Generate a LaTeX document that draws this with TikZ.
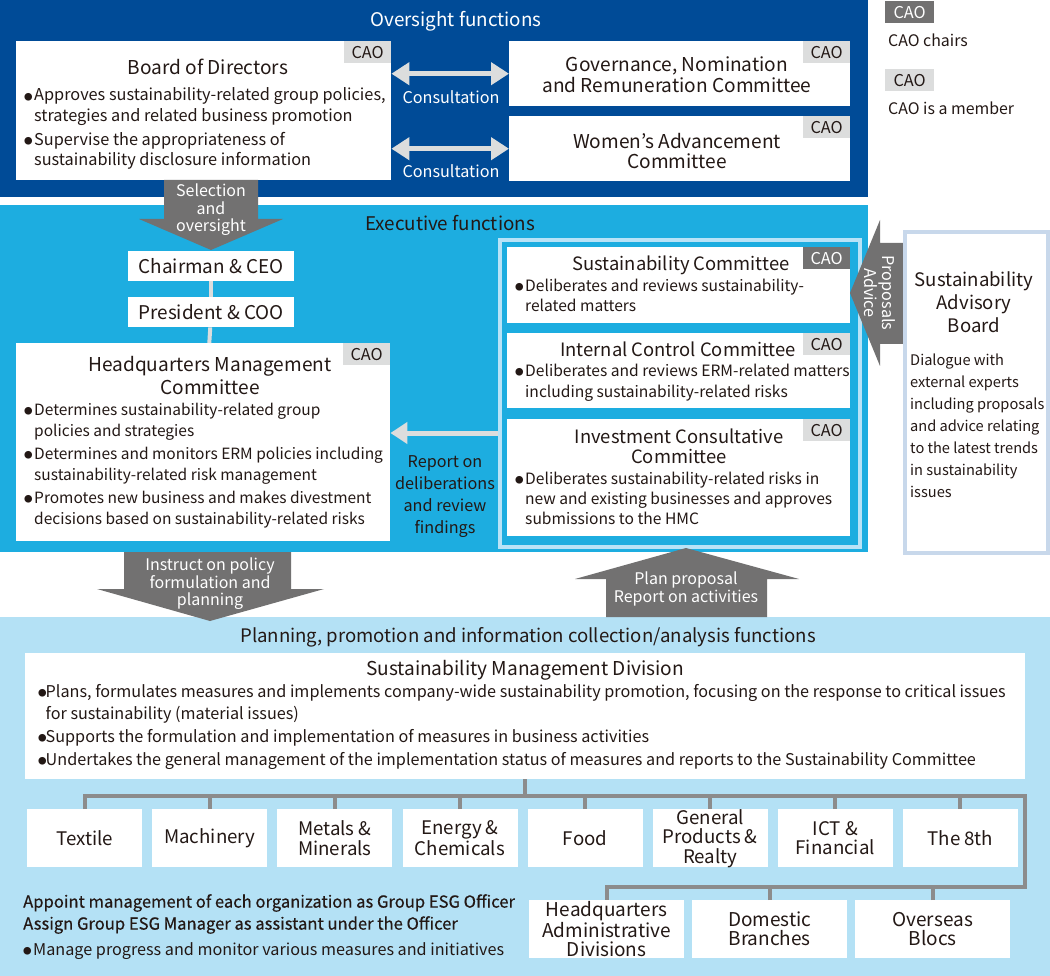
\documentclass[tikz,border=0pt]{standalone}
\usepackage{fontspec}
\setmainfont{Noto Sans CJK JP}
\newfontfamily\medfont[FakeBold=0.4]{Noto Sans CJK JP}
\usetikzlibrary{arrows.meta}
\definecolor{navy}{RGB}{0,75,151}
\definecolor{execblue}{RGB}{29,173,224}
\definecolor{planblue}{RGB}{180,225,245}
\definecolor{framec}{RGB}{185,227,247}
\definecolor{sabc}{RGB}{200,216,235}
\definecolor{darkgrey}{RGB}{114,113,113}
\definecolor{lightgrey}{RGB}{220,221,221}
\definecolor{treegrey}{RGB}{140,140,140}
\definecolor{ink}{RGB}{35,24,21}
\newcommand\fs[2]{\fontsize{#1}{#2}\selectfont}
\newcommand\bdot{\raisebox{0.8pt}{\fontsize{8.5}{8.5}\selectfont ●}}
\newcommand\bul{\makebox[10pt][l]{\bdot}}
\newcommand\bulS{\makebox[7.5pt][l]{\bdot}}
\newcommand\blist[1]{\begin{tabular}[t]{@{}l@{}l@{}}#1\end{tabular}}

\begin{document}
\begin{tikzpicture}[x=1pt,y=-1pt,
  every node/.style={text=ink, inner sep=0pt},
  panel/.style={anchor=north west},
  wbox/.style={fill=white, anchor=north west},
  cao/.style={fill=lightgrey, text=ink, anchor=north east, minimum width=47pt, minimum height=22pt, font=\fs{16.3}{16}},
  caod/.style={cao, fill=darkgrey, text=white},
  ptitle/.style={font=\fs{18.8}{20}},
  btitle/.style={font=\fs{19.1}{23}, align=center},
  body/.style={font=\fs{15.5}{20.5}, anchor=base west},
  wtext/.style={text=white, font=\fs{16}{17.5}, align=center},
  consult/.style={draw=lightgrey, line width=5pt, {Triangle[width=22pt,length=18pt]}-{Triangle[width=22pt,length=18pt]}},
  report/.style={draw=lightgrey, line width=5pt, -{Triangle[width=21pt,length=17pt]}},
  link/.style={draw=lightgrey, line width=4pt},
  tree/.style={draw=treegrey, line width=4pt},
  divbox/.style={wbox, minimum width=115pt, minimum height=58pt, font=\fs{18.7}{19.5}, align=center}
]
\useasboundingbox (0,0) rectangle (1050,976);

% oversight functions
\node[panel, fill=navy, minimum width=868pt, minimum height=197pt] (ovs) at (0,0) {};
\node[ptitle, text=white] at (456,21.5) {Oversight functions};

\node[wbox, minimum width=375pt, minimum height=139pt] (bod) at (16,41) {};
\node[cao] at (bod.north east) {CAO};
\node[btitle] at (208,67) {Board of Directors};
\node[body, font=\fs{16.3}{20.5}] at (24,101) {\blist{\bul & Approves sustainability-related group policies,\\
  & strategies and related business promotion\\[3.5pt]
  \bul & Supervise the appropriateness of\\
  & sustainability disclosure information}};

\node[wbox, minimum width=341pt, minimum height=65pt] (gnr) at (509,41) {};
\node[cao] at (gnr.north east) {CAO};
\node[btitle, font=\fs{19.1}{21}] at (677,75) {Governance, Nomination\\and Remuneration Committee};

\node[wbox, minimum width=341pt, minimum height=65pt] (wac) at (509,116) {};
\node[cao] at (wac.north east) {CAO};
\node[btitle, font=\fs{19.1}{20}] at (677,151) {Women’s Advancement\\Committee};

\draw[consult] (bod.east |- gnr.west) -- (gnr.west);
\draw[consult] (bod.east |- wac.west) -- (wac.west);
\node[text=white, font=\fs{16.2}{16}] at (451,97) {Consultation};
\node[text=white, font=\fs{16.2}{16}] at (451,171) {Consultation};

% legend
\node[caod, anchor=north west, minimum width=49pt] (lg1) at (885,1) {CAO};
\node[anchor=west, font=\fs{15.9}{16}] at (888,40) {CAO chairs};
\node[cao, anchor=north west, minimum width=49pt] (lg2) at (885,69) {CAO};
\node[anchor=west, font=\fs{15.9}{16}] at (888,108) {CAO is a member};

% executive functions
\node[panel, fill=execblue, minimum width=868pt, minimum height=347pt] (exe) at (0,205) {};
\node[ptitle] at (450,223) {Executive functions};

\fill[darkgrey] (164,180) -- (258,180) -- (258,219) -- (283,219) -- (211,250) -- (139,219) -- (164,219) -- cycle;
\node[wtext] at (211,210) {Selection\\and\\oversight};

\node[wbox, minimum width=166pt, minimum height=30pt, font=\fs{18.9}{18}] (ceo) at (128,251) {Chairman \& CEO};
\node[wbox, minimum width=166pt, minimum height=30pt, font=\fs{18.9}{18}] (coo) at (128,297) {President \& COO};

\node[wbox, minimum width=374pt, minimum height=198pt] (hmc) at (16,343) {};
\node[cao] at (hmc.north east) {CAO};
\draw[link] (ceo) -- (coo);
\draw[link] (coo) -- (hmc);
\node[btitle] at (210,375.5) {Headquarters Management\\Committee};
\node[body, font=\fs{15.5}{21}] at (24,415.5) {\blist{\bul & Determines sustainability-related group\\
  & policies and strategies\\[2pt]
  \bul & Determines and monitors ERM policies including\\
  & sustainability-related risk management\\[2pt]
  \bul & Promotes new business and makes divestment\\
  & decisions based on sustainability-related risks}};

\node[panel, draw=framec, line width=4pt, minimum width=360pt, minimum height=307pt] (frm) at (498,238) {};

\node[wbox, minimum width=343pt, minimum height=76pt] (sc) at (507,247) {};
\node[caod] at (sc.north east) {CAO};
\node[btitle, font=\fs{18.4}{20}] at (681,265) {Sustainability Committee};
\node[body, font=\fs{15.6}{20}] at (515,291.5) {\blist{\bul & Deliberates and reviews sustainability-\\
  & related matters}};

\node[wbox, minimum width=343pt, minimum height=75pt] (icc) at (507,333) {};
\node[cao] at (icc.north east) {CAO};
\node[btitle, font=\fs{18.4}{20}] at (678,349) {Internal Control Committee};
\node[body, font=\fs{15.6}{21}] at (515,376.5) {\blist{\bul & Deliberates and reviews ERM-related matters\\
  & including sustainability-related risks}};

\node[wbox, minimum width=343pt, minimum height=117pt] (inv) at (507,419) {};
\node[cao] at (inv.north east) {CAO};
\node[btitle, font=\fs{18.4}{20}] at (679,446) {Investment Consultative\\Committee};
\node[body, font=\fs{15.6}{20}] at (515,484.5) {\blist{\bul & Deliberates sustainability-related risks in\\
  & new and existing businesses and approves\\
  & submissions to the HMC}};

\coordinate (rp) at (0,433);
\draw[report] (frm.west |- rp) -- (hmc.east |- rp);
\node[font=\fs{16.2}{22}, align=center] at (445,497) {Report on\\deliberations\\and review\\findings};

% advisory board
\fill[darkgrey] (903,243) -- (880,243) -- (880,220) -- (850,293) -- (880,366) -- (880,344) -- (903,344) -- cycle;
\node[text=white, font=\fs{16.2}{18}, align=center, rotate=-90] at (880,293) {Proposals\\Advice};
\node[panel, draw=sabc, fill=white, line width=4pt, minimum width=143pt, minimum height=321pt] (sab) at (903,230) {};
\node[btitle, font=\fs{18.6}{23}] at (974,302) {Sustainability\\Advisory\\Board};
\node[font=\fs{14.6}{22}, align=left, anchor=north west] at (910,354) {Dialogue with\\external experts\\including proposals\\and advice relating\\to the latest trends\\in sustainability\\issues};

% planning functions
\node[panel, fill=planblue, minimum width=1050pt, minimum height=359pt] (pln) at (0,617) {};
\node[ptitle, font=\fs{18.6}{20}] at (528,637) {Planning, promotion and information collection/analysis functions};

\fill[darkgrey] (124,552) -- (291,552) -- (291,589) -- (324,589) -- (210,621) -- (97,589) -- (124,589) -- cycle;
\node[wtext] at (210,584) {Instruct on policy\\formulation and\\planning};
\fill[darkgrey] (606,617) -- (606,579) -- (575,579) -- (686,548) -- (799,579) -- (767,579) -- (767,617) -- cycle;
\node[wtext] at (686,589) {Plan proposal\\Report on activities};

\node[wbox, minimum width=1000pt, minimum height=126pt] (smd) at (25,653) {};
\node[btitle] at (525,670) {Sustainability Management Division};
\node[body, font=\fs{16.2}{22}] at (38,697.5) {\blist{\bulS & Plans, formulates measures and implements company-wide sustainability promotion, focusing on the response to critical issues\\
  & for sustainability (material issues)\\[1pt]
  \bulS & Supports the formulation and implementation of measures in business activities\\[1pt]
  \bulS & Undertakes the general management of the implementation status of measures and reports to the Sustainability Committee}};

% divisions
\foreach \lbl [count=\i] in {Textile, Machinery, {Metals \&\\Minerals}, {Energy \&\\Chemicals}, Food, {General\\Products \&\\Realty}, {ICT \&\\Financial}, The 8th}
  \node[divbox] (d\i) at ({27+125.1*(\i-1)},809) {\lbl};
\node[divbox, minimum width=155pt, font=\fs{19}{19}] (h1) at (529,900) {Headquarters\\Administrative\\Divisions};
\node[divbox, minimum width=155pt, font=\fs{19}{19}] (h2) at (692,900) {Domestic\\Branches};
\node[divbox, minimum width=155pt, font=\fs{19}{19}] (h3) at (855,900) {Overseas\\Blocs};

\coordinate (bar) at (524,796);
\coordinate (bar2) at (1025,887);
\draw[tree] (smd.south) -- (smd.south |- bar);
\draw[tree] (d1.north) -- (d1.north |- bar) -- (bar2 |- bar) -- (bar2) -- (h1.north |- bar2) -- (h1.north);
\foreach \i in {2,...,8}
  \draw[tree] (d\i.north) -- (d\i.north |- bar);
\foreach \i in {2,3}
  \draw[tree] (h\i.north) -- (h\i.north |- bar2);

\node[anchor=west, font=\medfont\fs{16.6}{16}] at (23,903) {Appoint management of each organization as Group ESG Officer};
\node[anchor=west, font=\medfont\fs{16.6}{16}] at (23,925) {Assign Group ESG Manager as assistant under the Officer};
\node[body, font=\fs{16.2}{16}] at (23,955.5) {\blist{\bul & Manage progress and monitor various measures and initiatives}};
\end{tikzpicture}
\end{document}
